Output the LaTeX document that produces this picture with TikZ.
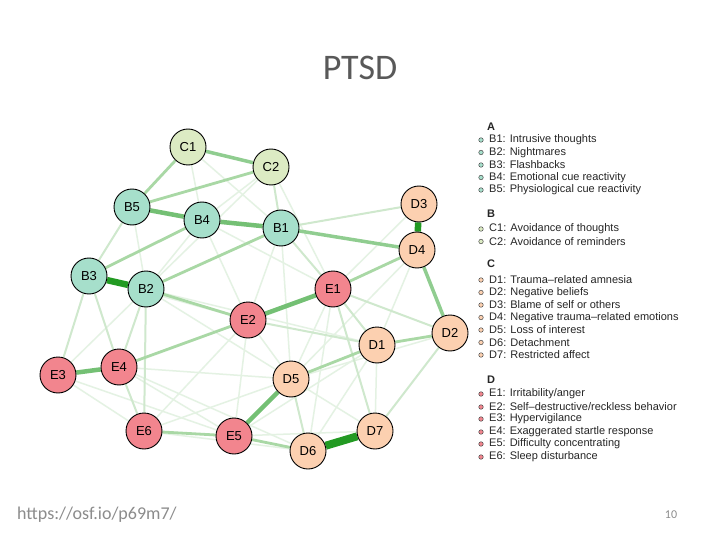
\documentclass[tikz,border=0pt]{standalone}
\usepackage{fontspec}
\setmainfont{Liberation Sans}
\newfontfamily\carlito{Carlito}
\usetikzlibrary{backgrounds}
\definecolor{bcol}{HTML}{A6DFCB}
\definecolor{ccol}{HTML}{DCEBC3}
\definecolor{dcol}{HTML}{FCD0B0}
\definecolor{ecol}{HTML}{F2858E}
\definecolor{gstrong}{HTML}{229A22}
\definecolor{gmed}{HTML}{74C074}
\definecolor{glight}{HTML}{A9D8A5}
\definecolor{gfaint}{HTML}{CFE8CD}
\definecolor{gvfaint}{HTML}{E4F2E3}
\definecolor{titlegray}{HTML}{595959}
\definecolor{footgray}{HTML}{8C8C8C}
\definecolor{legtext}{HTML}{262626}
\tikzset{
  sym/.style={circle,draw=black,line width=0.9pt,minimum size=36pt,inner sep=0pt,font=\fontsize{13}{13}\selectfont},
  bn/.style={sym,fill=bcol}, cn/.style={sym,fill=ccol}, dn/.style={sym,fill=dcol}, en/.style={sym,fill=ecol},
  ea/.style={draw=gstrong,line width=8pt},
  eb/.style={draw=gstrong,line width=6.5pt},
  ec/.style={draw=gmed,line width=4.5pt},
  ed/.style={draw=gmed!80,line width=3.5pt},
  ee/.style={draw=glight,line width=2.8pt},
  ef/.style={draw=gfaint,line width=2pt},
  eg/.style={draw=gvfaint,line width=1.5pt},
  bul/.style={circle,draw=black!70,line width=0.5pt,minimum size=4.5pt,inner sep=0pt},
  legt/.style={anchor=west,inner sep=0pt,text=legtext,font=\fontsize{11}{11}\selectfont},
  legh/.style={anchor=west,inner sep=0pt,text=legtext,font=\fontsize{11}{11}\selectfont\bfseries}
}
\begin{document}
\begin{tikzpicture}[x=1pt,y=-1pt]
\useasboundingbox (0,0) rectangle (720,540);
% nodes
\node[cn] (C1) at (188,147) {C1};
\node[cn] (C2) at (271,167) {C2};
\node[bn] (B5) at (132,207) {B5};
\node[bn] (B4) at (202,220) {B4};
\node[bn] (B1) at (281,228) {B1};
\node[dn] (D3) at (419,204) {D3};
\node[dn] (D4) at (417,250) {D4};
\node[bn] (B3) at (89,276) {B3};
\node[bn] (B2) at (146,289) {B2};
\node[en] (E1) at (333,289) {E1};
\node[en] (E2) at (248,320) {E2};
\node[dn] (D2) at (450,333) {D2};
\node[dn] (D1) at (377,345) {D1};
\node[en] (E3) at (58,375) {E3};
\node[en] (E4) at (119,367) {E4};
\node[dn] (D5) at (291,379) {D5};
\node[en] (E6) at (144,431) {E6};
\node[en] (E5) at (234,436) {E5};
\node[dn] (D6) at (308,451) {D6};
\node[dn] (D7) at (375,431) {D7};
\begin{scope}[on background layer]
\fill[white] (0,0) rectangle (720,540);
% very faint
\foreach \a/\b in {C1/B1,C1/B4,C2/B4,C2/B2,C2/E1,B4/E1,B4/E2,B5/B2,B4/B2,B1/D5,B2/D5,B2/D1,E4/E5,E3/E5,E4/D6,E6/D6,E6/D5,E5/D1,E5/D7,E2/D5,E2/E5,D5/D7,D5/D2,D4/D1,D4/D5,E1/D5,E1/D6,B1/E2,E3/B2,E4/D5,E6/E2,B3/E2,D3/E1,D1/D7,D6/D1,E3/E6}
  \draw[eg] (\a) -- (\b);
% faint
\foreach \a/\b in {B5/B3,E4/B3,E4/E6,B2/E6,D7/D2,D5/D6,E1/D7,D3/B1,E2/D1,E1/D2,C2/B1,E4/B2,E3/B3,B1/E1,E1/D1}
  \draw[ef] (\a) -- (\b);
% light
\foreach \a/\b in {E1/D4,B4/B3,B1/B2,C1/B5,E6/E5,D5/D1,D1/D2,B5/C2,E2/B2,E2/E4,E5/D6}
  \draw[ee] (\a) -- (\b);
% medium
\foreach \a/\b in {D4/D2,B1/D4,C1/C2}
  \draw[ed] (\a) -- (\b);
\foreach \a/\b in {B5/B4,B4/B1,E1/E2,E3/E4,D5/E5}
  \draw[ec] (\a) -- (\b);
% strong
\draw[eb] (B3) -- (B2);
\draw[eb] (D3) -- (D4);
\draw[ea] (D6) -- (D7);
\end{scope}
% title and footer
\node[font=\carlito\fontsize{36}{36}\selectfont,text=titlegray] (title) at (360,68) {PTSD};
\node[anchor=west,font=\carlito\fontsize{18}{18}\selectfont,text=footgray,inner sep=0pt] (url) at (17,515) {https://osf.io/p69m7/};
\node[font=\carlito\fontsize{12}{12}\selectfont,text=footgray,inner sep=0pt] (pg) at (671,515) {10};
% legend
\node[legh] (hA) at (487,127) {A};
\node[legh] (hB) at (487,214) {B};
\node[legh] (hC) at (487,264) {C};
\node[legh] (hD) at (487,380) {D};
\foreach \y/\c/\t [count=\i] in {
 140/bcol/{B1: Intrusive thoughts},
 152.5/bcol/{B2: Nightmares},
 165/bcol/{B3: Flashbacks},
 177.5/bcol/{B4: Emotional cue reactivity},
 190/bcol/{B5: Physiological cue reactivity},
 229/ccol/{C1: Avoidance of thoughts},
 241.5/ccol/{C2: Avoidance of reminders},
 280/dcol/{D1: Trauma\textendash related amnesia},
 292.5/dcol/{D2: Negative beliefs},
 305/dcol/{D3: Blame of self or others},
 317.5/dcol/{D4: Negative trauma\textendash related emotions},
 330/dcol/{D5: Loss of interest},
 342.5/dcol/{D6: Detachment},
 355/dcol/{D7: Restricted affect},
 394/ecol/{E1: Irritability/anger},
 407/ecol/{E2: Self\textendash destructive/reckless behavior},
 419/ecol/{E3: Hypervigilance},
 432/ecol/{E4: Exaggerated startle response},
 444/ecol/{E5: Difficulty concentrating},
 457/ecol/{E6: Sleep disturbance}}
{
  \node[bul,fill=\c] (lb\i) at (481,\y) {};
  \node[legt] (lt\i) at (489,\y) {\t};
}
\end{tikzpicture}
\end{document}
